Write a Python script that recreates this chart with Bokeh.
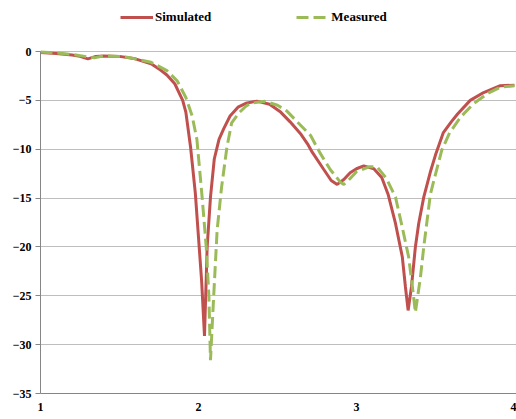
from bokeh.plotting import figure
from bokeh.models import Range1d, FixedTicker, Legend, LegendItem
from bokeh.embed import file_html
from bokeh.resources import INLINE

# Simulated (red)
sim_x = [1.0, 1.1, 1.2, 1.25, 1.3, 1.35, 1.4, 1.5, 1.6, 1.7, 1.76, 1.8, 1.85, 1.9, 1.92,
         1.95, 1.98, 2.0, 2.02, 2.038, 2.055, 2.076, 2.1, 2.13, 2.16, 2.2, 2.25, 2.3, 2.37,
         2.45, 2.52, 2.58, 2.65, 2.69, 2.72, 2.79, 2.84, 2.878, 2.92, 2.96, 3.0, 3.046,
         3.11, 3.16, 3.2, 3.247, 3.29, 3.31, 3.327, 3.348, 3.373, 3.394, 3.426, 3.47, 3.5,
         3.55, 3.6, 3.64, 3.72, 3.805, 3.91, 4.0]
sim_y = [-0.1, -0.2, -0.35, -0.5, -0.75, -0.5, -0.45, -0.5, -0.75, -1.25, -1.9, -2.4, -3.3,
         -5.0, -6.2, -9.8, -14.5, -19.0, -23.5, -29.1, -20.0, -14.9, -11.0, -9.0, -7.9, -6.6,
         -5.7, -5.3, -5.08, -5.4, -6.2, -7.2, -8.5, -9.45, -10.3, -12.0, -13.2, -13.6, -13.1,
         -12.4, -12.0, -11.7, -12.0, -12.9, -14.6, -17.6, -21.0, -24.1, -26.5, -24.1, -20.0,
         -17.6, -14.9, -12.2, -10.6, -8.3, -7.2, -6.4, -5.0, -4.2, -3.5, -3.45]

# Measured (green, dashed)
mea_x = [1.0, 1.1, 1.2, 1.28, 1.34, 1.4, 1.5, 1.57, 1.7, 1.8, 1.865, 1.92, 1.96, 1.99,
         2.023, 2.049, 2.066, 2.076, 2.097, 2.118, 2.146, 2.18, 2.21, 2.255, 2.3, 2.33,
         2.42, 2.5, 2.56, 2.625, 2.71, 2.77, 2.835, 2.9, 2.92, 2.96, 3.0, 3.08, 3.13,
         3.19, 3.247, 3.29, 3.33, 3.352, 3.373, 3.405, 3.426, 3.447, 3.468, 3.49, 3.54,
         3.59, 3.66, 3.74, 3.83, 3.91, 4.0]
mea_y = [-0.05, -0.15, -0.3, -0.5, -0.65, -0.45, -0.5, -0.65, -1.1, -1.95, -3.0, -4.7, -6.6,
         -9.0, -14.9, -20.0, -25.1, -31.6, -24.8, -18.3, -13.9, -9.8, -7.3, -6.3, -5.6, -5.3,
         -5.1, -5.5, -6.1, -7.2, -8.6, -10.4, -12.1, -13.4, -13.6, -13.0, -12.3, -11.8, -11.8,
         -13.0, -14.9, -18.0, -21.0, -23.8, -26.7, -23.1, -20.0, -17.3, -14.6, -13.2, -10.1,
         -8.3, -6.7, -5.35, -4.3, -3.65, -3.5]

x_ticks = [1, 2, 3, 4]
y_ticks = [-35, -30, -25, -20, -15, -10, -5, 0]

FONT = "Liberation Serif"

# frame spans the full figure height above the axis; the space above 0 holds the legend
p = figure(width=516, height=419, output_backend="svg", toolbar_location=None,
           x_range=Range1d(1, 4.013), y_range=Range1d(-35, 5.22),
           min_border_left=40, min_border_right=0, min_border_top=0, min_border_bottom=26)
p.outline_line_color = None
p.background_fill_color = "white"
p.border_fill_color = "white"

p.xgrid.visible = False
p.ygrid.ticker = FixedTicker(ticks=y_ticks)
p.ygrid.grid_line_color = "#BEBEBE"
p.ygrid.grid_line_width = 1

p.xaxis.ticker = FixedTicker(ticks=x_ticks)
p.yaxis.ticker = FixedTicker(ticks=y_ticks)
p.yaxis.bounds = (-35, 0)
for ax in (p.xaxis[0], p.yaxis[0]):
    ax.axis_line_color = "#868686"
    ax.axis_line_width = 1
    ax.major_tick_line_color = "#868686"
    ax.minor_tick_line_color = None
    ax.major_label_text_font = FONT
    ax.major_label_text_font_style = "bold"
    ax.major_label_text_font_size = "12px"
    ax.major_label_text_color = "black"
p.xaxis.major_tick_out = 0
p.xaxis.major_tick_in = 0
p.xaxis.major_label_standoff = 9
p.yaxis.major_tick_out = 5
p.yaxis.major_tick_in = 0
p.yaxis.major_label_standoff = 4

r_sim = p.line(sim_x, sim_y, line_color="#C0504D", line_width=3)
r_mea = p.line(mea_x, mea_y, line_color="#9BBB59", line_width=3, line_dash="12 5")

legend = Legend(items=[LegendItem(label="Simulated", renderers=[r_sim]),
                       LegendItem(label="Measured", renderers=[r_mea])],
                orientation="horizontal", location=(80, 368),
                border_line_color=None, background_fill_alpha=0,
                label_text_font=FONT, label_text_font_style="bold",
                label_text_font_size="13px", label_text_color="black",
                glyph_width=33, glyph_height=14,
                spacing=85, padding=0, margin=0, label_standoff=2)
p.add_layout(legend, "center")

open("out.html", "w").write(file_html(p, INLINE))
